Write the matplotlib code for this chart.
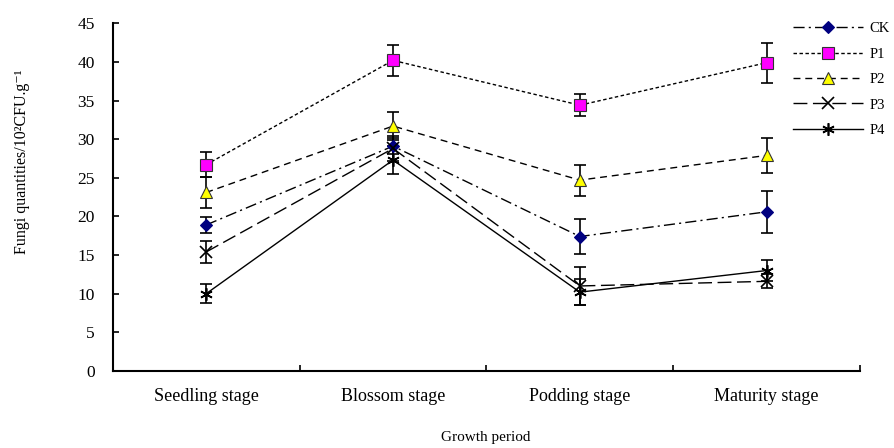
"""
Fungi quantities across growth periods (CK, P1-P4) with error bars.
"""
import matplotlib
matplotlib.use("Agg")
import matplotlib.pyplot as plt
import numpy as np

STAGES = ["Seedling stage", "Blossom stage", "Podding stage", "Maturity stage"]
SERIES = ["CK", "P1", "P2", "P3", "P4"]

ck = [18.9, 29.1, 17.4, 20.6]
ck_err = [1.0, 1.0, 2.3, 2.7]
p1 = [26.7, 40.2, 34.4, 39.9]
p1_err = [1.6, 2.0, 1.4, 2.6]
p2 = [23.1, 31.7, 24.7, 27.9]
p2_err = [2.0, 1.8, 2.0, 2.3]
p3 = [15.4, 28.8, 11.0, 11.6]
p3_err = [1.4, 1.6, 2.4, 0.9]
p4 = [10.0, 27.3, 10.2, 13.0]
p4_err = [1.2, 1.8, 1.7, 1.4]

plt.rcParams["font.family"] = ["Liberation Serif", "DejaVu Serif"]

STYLE = {
    "CK": dict(ls=(0, (8, 3, 1.5, 3)), marker="D", mfc="#000080", mec="#000080", ms=6.5),
    "P1": dict(ls=(0, (2.5, 1.8)), marker="s", mfc="#ff00ff", mec="#333333", ms=9),
    "P2": dict(ls=(0, (5, 3.5)), marker="^", mfc="#ffff00", mec="#333333", ms=8),
    "P3": dict(ls=(0, (10, 4)), marker="x", mfc="black", mec="black", ms=8, mew=1.2),
    "P4": dict(ls="-", marker=(6, 2, 0), mfc="black", mec="black", ms=9, mew=1.2),
}

fig = plt.figure(figsize=(8.95, 4.48), dpi=100)
ax = fig.add_axes([0.126, 0.172, 0.835, 0.776])

x = np.arange(len(STAGES))
data = {"CK": (ck, ck_err), "P1": (p1, p1_err), "P2": (p2, p2_err),
        "P3": (p3, p3_err), "P4": (p4, p4_err)}
handles = []
for name in SERIES:
    vals, errs = data[name]
    st = STYLE[name]
    ax.errorbar(x, vals, yerr=errs, fmt="none", ecolor="black",
                elinewidth=1.2, capsize=4.5, capthick=1.2, zorder=2)
    (h,) = ax.plot(x, vals, color="black", lw=1.0, linestyle=st["ls"],
                   marker=st["marker"], markerfacecolor=st["mfc"],
                   markeredgecolor=st["mec"], markersize=st["ms"],
                   markeredgewidth=st.get("mew", 0.8), label=name, zorder=3)
    handles.append(h)

ax.set_xlim(-0.5, 3.5)
ax.set_ylim(0, 45)
ax.set_yticks(np.arange(0, 46, 5))
ax.set_xticks(np.arange(-0.5, 3.6, 1.0))
ax.set_xticklabels([])
ax.set_xticks(x, minor=True)
ax.set_xticklabels(STAGES, minor=True, fontsize=13)
ax.tick_params(axis="x", which="minor", length=0, pad=12)
ax.tick_params(axis="x", which="major", direction="in", length=4, width=1.2)
ax.tick_params(axis="y", direction="in", length=4, width=1.2, labelsize=12.5, pad=13)
for side in ("top", "right"):
    ax.spines[side].set_visible(False)
for side in ("left", "bottom"):
    ax.spines[side].set_linewidth(1.5)

fig.text(486 / 895, 1 - 437 / 448, "Growth period", fontsize=11,
         ha="center", va="center")
fig.text(22 / 895, 1 - 162 / 448, "Fungi quantities/10²CFU.g⁻¹",
         fontsize=11.5, rotation=90, ha="center", va="center")

fig.legend(handles=handles, labels=SERIES, loc="upper left",
           bbox_to_anchor=(793 / 895, 0.951), frameon=False, fontsize=10.5,
           borderpad=0, borderaxespad=0, handlelength=4.8,
           handletextpad=0.45, labelspacing=0.84)

fig.savefig("out.png", dpi=100)
